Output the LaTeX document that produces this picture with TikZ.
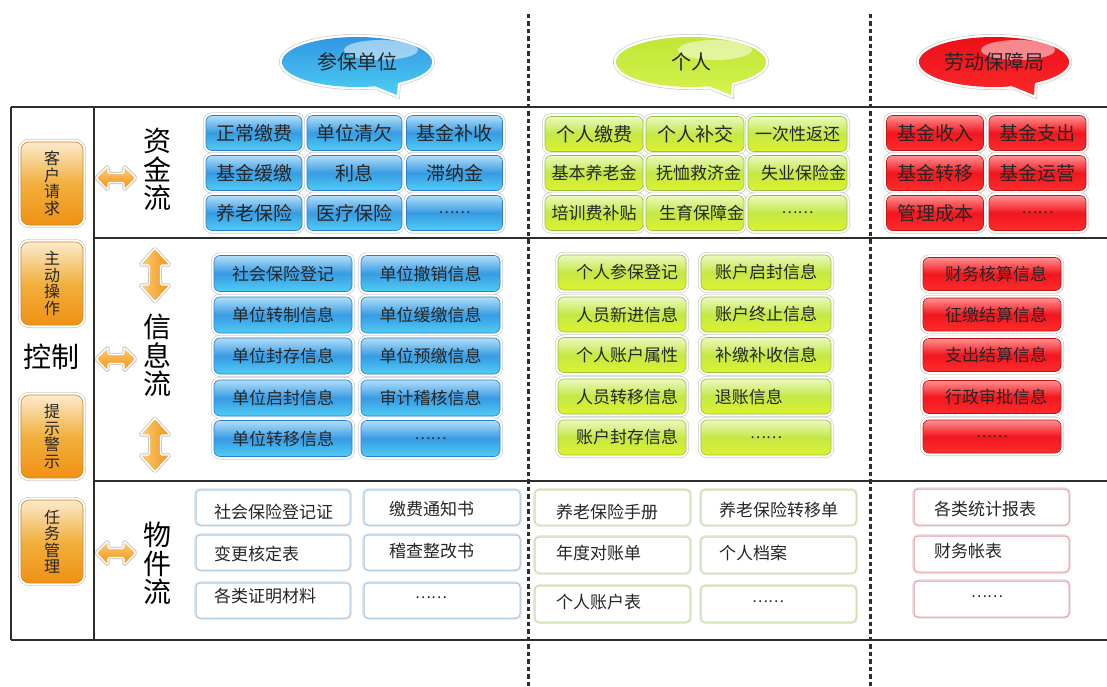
\documentclass[tikz,border=0pt]{standalone}
\usepackage{fontspec}
\setmainfont{Noto Sans CJK SC}
\definecolor{bTop}{RGB}{178,222,248}
\definecolor{bMid}{RGB}{55,155,228}
\definecolor{bBot}{RGB}{80,205,244}
\definecolor{bEdge}{RGB}{45,125,205}
\definecolor{gTop}{RGB}{236,248,192}
\definecolor{gMid}{RGB}{196,232,70}
\definecolor{gBot}{RGB}{222,242,45}
\definecolor{gEdge}{RGB}{150,195,60}
\definecolor{rTop}{RGB}{255,145,145}
\definecolor{rMid}{RGB}{242,22,30}
\definecolor{rBot}{RGB}{252,45,45}
\definecolor{rEdge}{RGB}{195,20,20}
\definecolor{oTop}{RGB}{252,234,205}
\definecolor{oMid}{RGB}{241,176,62}
\definecolor{oBot}{RGB}{240,145,20}
\definecolor{oEdge}{RGB}{215,135,30}
\definecolor{boLine}{RGB}{160,200,235}
\definecolor{goLine}{RGB}{195,225,150}
\definecolor{roLine}{RGB}{245,150,160}
\definecolor{frameC}{RGB}{45,45,45}
\definecolor{bubB1}{RGB}{50,150,228}
\definecolor{bubB2}{RGB}{75,205,242}
\definecolor{bubG1}{RGB}{192,230,55}
\definecolor{bubG2}{RGB}{212,242,75}
\definecolor{bubR1}{RGB}{236,15,25}
\definecolor{bubR2}{RGB}{250,40,42}
\definecolor{arTop}{RGB}{252,205,120}
\definecolor{arBot}{RGB}{240,145,20}
\newcommand\fsz[1]{\fontsize{#1}{#1}\selectfont}
\tikzset{
  glow/.style={preaction={draw=black!20, line width=6pt}, preaction={draw=white, line width=4.6pt}},
  gbox/.style={glow, rounded corners=6pt, draw=#1Edge, line width=0.6pt, top color=#1Top, bottom color=#1Bot, middle color=#1Mid, inner sep=0pt, text=black!85},
  obox/.style={preaction={draw=black!9, line width=3.6pt}, draw=#1, line width=1pt, rounded corners=4pt, fill=white, inner sep=0pt},
  framest/.style={draw=frameC, line width=2.4pt},
  dotline/.style={draw=frameC, line width=3pt, dash pattern=on 4.5pt off 3pt},
  arrowst/.style={draw=white, line width=1.4pt, line join=round, rounded corners=1.5pt, preaction={draw=black!22, line width=3.2pt}},
  bubst/.style={preaction={draw=black!20, line width=6pt}, preaction={draw=white, line width=4.6pt}, line join=round},
  vlabel/.style={font=\fontsize{28}{28.5}\selectfont, align=center, inner sep=0pt},
  sidebox/.style={glow, rounded corners=8pt, draw=oEdge, line width=0.6pt, top color=oTop, bottom color=oBot, middle color=oMid, minimum width=62pt, minimum height=83pt, font=\fontsize{16}{16.5}\selectfont, align=center, inner sep=0pt, text=black!85},
  txt/.style={font=\fsz{17}, text=black!85, inner sep=0pt}
}
% glossy box: colour, name, position, width, height, font size, text
\newcommand\gb[7]{\node[gbox=#1, minimum width=#4pt, minimum height=#5pt, font=\fsz{#6}] (#2) at (#3) {#7};}
% outline box: colour, name, position, width, height
\newcommand\ob[5]{\node[obox=#1, minimum width=#4pt, minimum height=#5pt] (#2) at (#3) {};}
\newcommand\harrow[2]{\path[arrowst, top color=arTop, bottom color=arBot]
  (#1-20,#2) -- (#1-8,#2-12) -- (#1-8,#2-4.5) -- (#1+8,#2-4.5) -- (#1+8,#2-12) -- (#1+20,#2)
  -- (#1+8,#2+12) -- (#1+8,#2+4.5) -- (#1-8,#2+4.5) -- (#1-8,#2+12) -- cycle;}
\newcommand\varrow[2]{\path[arrowst, left color=arTop, right color=arBot]
  (#1,#2-27) -- (#1+15,#2-10) -- (#1+5.5,#2-10) -- (#1+5.5,#2+10) -- (#1+15,#2+10) -- (#1,#2+27)
  -- (#1-15,#2+10) -- (#1-5.5,#2+10) -- (#1-5.5,#2-10) -- (#1-15,#2-10) -- cycle;}
% bubble: name, cx, cy, colour1, colour2, text
\newcommand\bubble[6]{%
  \path[bubst, top color=#4, bottom color=#5]
    plot[domain=76:417, samples=100, smooth] ({#2+75*cos(\x)},{#3+25*sin(\x)}) -- (#2+40,#3+33) -- cycle;
  \path[fill=white, fill opacity=0.5] (#2+24,#3-12) ellipse [x radius=37, y radius=10];
  \node[font=\fsz{20}, text=black!85] (#1) at (#2,#3) {#6};}
\begin{document}
\begin{tikzpicture}[x=1pt,y=-1pt]
\useasboundingbox (0,0) rectangle (1107,687);
% frame
\draw[framest] (11,107) -- (1110,107);
\draw[framest] (94,238) -- (1110,238);
\draw[framest] (94,481) -- (1110,481);
\draw[framest] (11,640) -- (1110,640);
\draw[framest] (11,107) -- (11,640);
\draw[framest] (94,107) -- (94,640);
% dotted dividers
\draw[dotline] (528,14) -- (528,690);
\draw[dotline] (870,14) -- (870,690);
% bubbles
\bubble{hUnit}{357}{62}{bubB1}{bubB2}{参保单位}
\bubble{hPerson}{691}{62}{bubG1}{bubG2}{个人}
\bubble{hBureau}{994}{62}{bubR1}{bubR2}{劳动保障局}
% left column
\node[sidebox] (sReq) at (52,183.5) {客\\户\\请\\求};
\node[sidebox] (sOp) at (52,283.5) {主\\动\\操\\作};
\node[font=\fsz{28}, inner sep=0pt] (ctrl) at (51,357) {控制};
\node[sidebox] (sWarn) at (52,436.5) {提\\示\\警\\示};
\node[sidebox] (sTask) at (52,541.5) {任\\务\\管\\理};
% arrows
\harrow{116}{178}
\harrow{116}{359}
\harrow{116}{553}
\varrow{155}{275}
\varrow{155}{445}
% flow labels
\node[vlabel] (lMoney) at (157,169.5) {资\\金\\流};
\node[vlabel] (lInfo) at (157,355.5) {信\\息\\流};
\node[vlabel] (lGoods) at (157,563.5) {物\\件\\流};
% ---------- money flow ----------
\gb{b}{m11}{254,133}{96}{35}{19}{正常缴费}
\gb{b}{m12}{354.5,133}{95}{35}{19}{单位清欠}
\gb{b}{m13}{454.5,133}{96}{35}{19}{基金补收}
\gb{b}{m21}{254,173}{96}{35}{19}{基金缓缴}
\gb{b}{m22}{354.5,173}{95}{35}{19}{利息}
\gb{b}{m23}{454.5,173}{96}{35}{19}{滞纳金}
\gb{b}{m31}{254,213}{96}{35}{19}{养老保险}
\gb{b}{m32}{354.5,213}{95}{35}{19}{医疗保险}
\gb{b}{m33}{454.5,213}{96}{35}{15}{……}
\gb{g}{p11}{594,134}{98}{35}{19}{个人缴费}
\gb{g}{p12}{695,134}{98}{35}{19}{个人补交}
\gb{g}{p13}{797.5,134}{99}{35}{17}{一次性返还}
\gb{g}{p21}{594,173}{98}{35}{17}{基本养老金}
\gb{g}{p22}{695,173}{98}{35}{17}{\hspace*{7pt}抚恤救济金}
\gb{g}{p23}{797.5,173}{99}{35}{17}{\hspace*{12pt}失业保险金}
\gb{g}{p31}{594,213}{98}{35}{17}{培训费补贴}
\gb{g}{p32}{695,213}{98}{35}{17}{\hspace*{13pt}生育保障金}
\gb{g}{p33}{797.5,213}{99}{35}{15}{……}
\gb{r}{f11}{935,133}{97}{35}{19}{基金收入}
\gb{r}{f12}{1037.5,133}{97}{35}{19}{基金支出}
\gb{r}{f21}{935,173}{97}{35}{19}{基金转移}
\gb{r}{f22}{1037.5,173}{97}{35}{19}{基金运营}
\gb{r}{f31}{935,213}{97}{35}{19}{管理成本}
\gb{r}{f32}{1037.5,213}{97}{35}{15}{……}
% ---------- information flow ----------
\gb{b}{i11}{283,273.5}{138}{36}{17}{社会保险登记}
\gb{b}{i21}{283,315}{138}{36}{17}{单位转制信息}
\gb{b}{i31}{283,356}{138}{36}{17}{单位封存信息}
\gb{b}{i41}{283,398}{138}{36}{17}{单位启封信息}
\gb{b}{i51}{283,438.5}{138}{36}{17}{单位转移信息}
\gb{b}{i12}{430.5,273.5}{139}{36}{17}{单位撤销信息}
\gb{b}{i22}{430.5,315}{139}{36}{17}{单位缓缴信息}
\gb{b}{i32}{430.5,356}{139}{36}{17}{单位预缴信息}
\gb{b}{i42}{430.5,398}{139}{36}{17}{审计稽核信息}
\gb{b}{i52}{430.5,438.5}{139}{36}{15}{……}
\gb{g}{j11}{622,272.5}{128}{35}{17}{\hspace*{10pt}个人参保登记}
\gb{g}{j21}{622,314.5}{128}{35}{17}{\hspace*{10pt}人员新进信息}
\gb{g}{j31}{622,355}{128}{35}{17}{\hspace*{10pt}个人账户属性}
\gb{g}{j41}{622,396.5}{128}{35}{17}{\hspace*{10pt}人员转移信息}
\gb{g}{j51}{622,437.5}{128}{35}{17}{\hspace*{10pt}账户封存信息}
\gb{g}{j12}{766,272.5}{130}{35}{17}{账户启封信息}
\gb{g}{j22}{766,314.5}{130}{35}{17}{账户终止信息}
\gb{g}{j32}{766,355}{130}{35}{17}{补缴补收信息}
\gb{g}{j42}{766,396.5}{130}{35}{17}{\hspace*{0pt}}
\node[txt, anchor=west] (j42t) at ([xshift=14pt]j42.west) {退账信息};
\gb{g}{j52}{766,437.5}{130}{35}{15}{……}
\gb{r}{k1}{992,274}{138}{33}{17}{\hspace*{8pt}财务核算信息}
\gb{r}{k2}{992,314.5}{138}{33}{17}{\hspace*{8pt}征缴结算信息}
\gb{r}{k3}{992,355}{138}{33}{17}{\hspace*{8pt}支出结算信息}
\gb{r}{k4}{992,397}{138}{33}{17}{\hspace*{8pt}行政审批信息}
\gb{r}{k5}{992,436.5}{138}{33}{15}{……}
% ---------- goods flow ----------
\ob{boLine}{u11}{273,507.5}{154}{35}
\ob{boLine}{u21}{273,552.5}{154}{35}
\ob{boLine}{u31}{273,600.5}{154}{35}
\ob{boLine}{u12}{442,507.5}{156}{35}
\ob{boLine}{u22}{442,552.5}{156}{35}
\ob{boLine}{u32}{442,600.5}{156}{35}
\node[txt, anchor=west] (u11t) at (214,512) {社会保险登记证};
\node[txt, anchor=west] (u21t) at (214,553.5) {变更核定表};
\node[txt, anchor=west] (u31t) at (214,596.5) {各类证明材料};
\node[txt, anchor=west] (u12t) at (389,509.5) {缴费通知书};
\node[txt, anchor=west] (u22t) at (389,551) {稽查整改书};
\node[txt, font=\fsz{15}] (u32t) at (431,598) {……};
\ob{goLine}{v11}{612.5,507.5}{155}{35}
\ob{goLine}{v21}{612.5,555}{155}{36}
\ob{goLine}{v31}{612.5,604}{155}{36}
\ob{goLine}{v12}{778.5,507.5}{155}{35}
\ob{goLine}{v22}{778.5,555}{155}{36}
\ob{goLine}{v32}{778.5,604}{155}{36}
\node[txt, anchor=west] (v11t) at (556,512.5) {养老保险手册};
\node[txt, anchor=west] (v21t) at (556,553.5) {年度对账单};
\node[txt, anchor=west] (v31t) at (556,602.5) {个人账户表};
\node[txt, anchor=west] (v12t) at (719,510.5) {养老保险转移单};
\node[txt, anchor=west] (v22t) at (719,552.5) {个人档案};
\node[txt, font=\fsz{15}] (v32t) at (768,602) {……};
\ob{roLine}{w1}{991.5,507}{155}{36}
\ob{roLine}{w2}{991.5,554}{155}{36}
\ob{roLine}{w3}{991.5,599}{155}{36}
\node[txt, anchor=west] (w1t) at (934,509.5) {各类统计报表};
\node[txt, anchor=west] (w2t) at (934,551.5) {财务帐表};
\node[txt, font=\fsz{15}] (w3t) at (987,597) {……};
\end{tikzpicture}
\end{document}
